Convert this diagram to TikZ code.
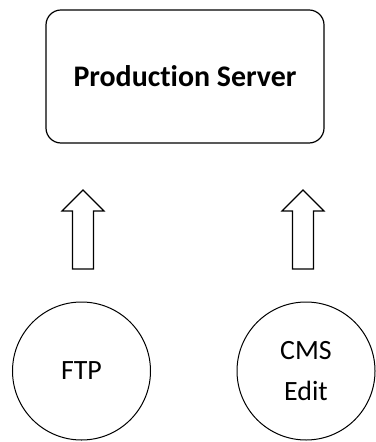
\documentclass[tikz,border=0pt]{standalone}
\usepackage{fontspec}
\setmainfont{Carlito}[Ligatures=NoCommon]
\begin{document}
\begin{tikzpicture}[x=1bp,y=-1bp,
  box/.style={draw,line width=1.2bp,rounded corners=15bp,minimum width=278bp,minimum height=133bp,font=\bfseries\fontsize{30}{34}\selectfont},
  circ/.style={draw,circle,line width=1bp,minimum size=138bp,inner sep=0pt,align=center,font=\fontsize{28}{41}\selectfont},
  fat/.style={draw,line width=1.1bp,line join=miter}]
\useasboundingbox (0,0) rectangle (375,442);
\node[box] (srv) at (185,76.5) {Production Server};
\node[circ] (ftp) at (81.5,371) {FTP};
\node[circ] (cms) at (306,371) {CMS\\Edit};
\coordinate (a1) at (83,269);
\coordinate (a2) at (303,269);
\draw[fat] ([xshift=-10.5bp]a1) -- ++(0,-58) -- ++(-10.5,0) -- (83,190) -- (104,211) -- ++(-10.5,0) -- ([xshift=10.5bp]a1) -- cycle;
\draw[fat] ([xshift=-10.5bp]a2) -- ++(0,-58) -- ++(-10.5,0) -- (303,190) -- (324,211) -- ++(-10.5,0) -- ([xshift=10.5bp]a2) -- cycle;
\end{tikzpicture}
\end{document}
